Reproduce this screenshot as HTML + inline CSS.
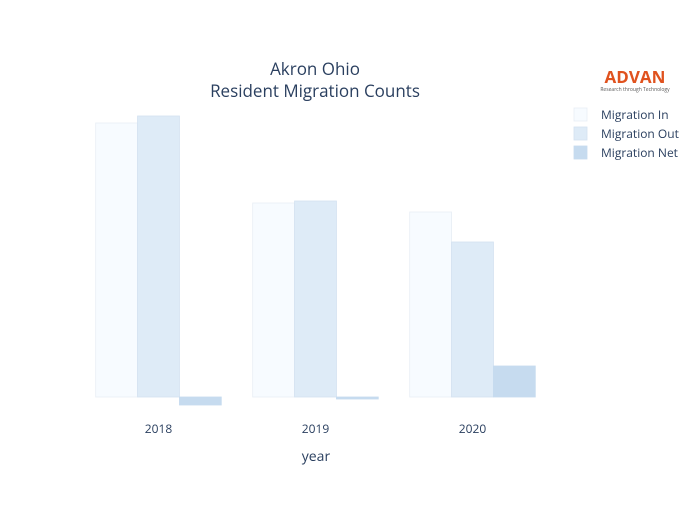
<!DOCTYPE html>
<html><head><meta charset="utf-8"><style>
html,body{margin:0;padding:0;background:#fff;}
svg text{font-family:"Open Sans","Liberation Sans",sans-serif;fill:#2a3f5f;}
</style></head><body>
<svg id="chart" width="700" height="500" xmlns="http://www.w3.org/2000/svg">
<rect width="700" height="500" fill="#fff"/>
<text x="315" y="75" text-anchor="middle" font-size="17">Akron Ohio</text>
<text x="315" y="97" text-anchor="middle" font-size="17">Resident Migration Counts</text>
<g id="bars"></g>
<g id="xticks"></g>
<text x="316" y="461" text-anchor="middle" font-size="14">year</text>
<g>
<text x="635" y="83" text-anchor="middle" font-size="17" font-weight="bold" style="fill:#e0521e">ADVAN</text>
<text x="635" y="91" text-anchor="middle" font-size="5" style="fill:#555">Research through Technology</text>
</g>
<g id="legend"></g>
</svg>
<script>
const categories=["2018","2019","2020"];
const seriesNames=["Migration In","Migration Out","Migration Net"];
const migrationIn=[27400,19400,18500];
const migrationOut=[28100,19600,15500];
const migrationNet=[-800,-200,3100];
const series=[migrationIn,migrationOut,migrationNet];
const colors=["#f7fbff","#deebf7","#c6dbef"];
const strokes=["#e8eef5","#d3e2f1","#c6dbef"];
const plotL=80,plotR=551,plotT=100,plotB=420,yMax=29700,yMin=-2300;
const ns="http://www.w3.org/2000/svg";
function y(v){return plotT+(yMax-v)/(yMax-yMin)*(plotB-plotT);}
const bw=(plotR-plotL)/categories.length;
function x(i){return plotL+bw*(i+0.5);}
const barW=bw*0.8/series.length;
const bars=document.getElementById('bars');
series.forEach((s,si)=>{s.forEach((v,i)=>{
 const r=document.createElementNS(ns,'rect');
 const x0=x(i)-bw*0.4+si*barW;
 const y0=Math.min(y(v),y(0)),h=Math.abs(y(v)-y(0));
 r.setAttribute('x',x0);r.setAttribute('y',y0);r.setAttribute('width',barW);r.setAttribute('height',h);
 r.setAttribute('fill',colors[si]);r.setAttribute('stroke',strokes[si]);r.setAttribute('stroke-width','0.8');
 
 
 bars.appendChild(r);
});});
const xt=document.getElementById('xticks');
categories.forEach((c,i)=>{
 const t=document.createElementNS(ns,'text');
 t.setAttribute('x',x(i));t.setAttribute('y',433);t.setAttribute('text-anchor','middle');t.setAttribute('font-size','12');
 t.textContent=c;
 
 
 xt.appendChild(t);
});
const lg=document.getElementById('legend');
seriesNames.forEach((n,i)=>{
 const g=document.createElementNS(ns,'g');
 
 
 const r=document.createElementNS(ns,'rect');
 r.setAttribute('x',574);r.setAttribute('y',108+i*19);r.setAttribute('width',13);r.setAttribute('height',13);
 r.setAttribute('fill',colors[i]);r.setAttribute('stroke',strokes[i]);r.setAttribute('stroke-width','0.8');
 const t=document.createElementNS(ns,'text');
 t.setAttribute('x',601);t.setAttribute('y',119+i*19);t.setAttribute('font-size','12');
 t.textContent=n;
 g.appendChild(r);g.appendChild(t);lg.appendChild(g);
});
</script>
</body></html>
